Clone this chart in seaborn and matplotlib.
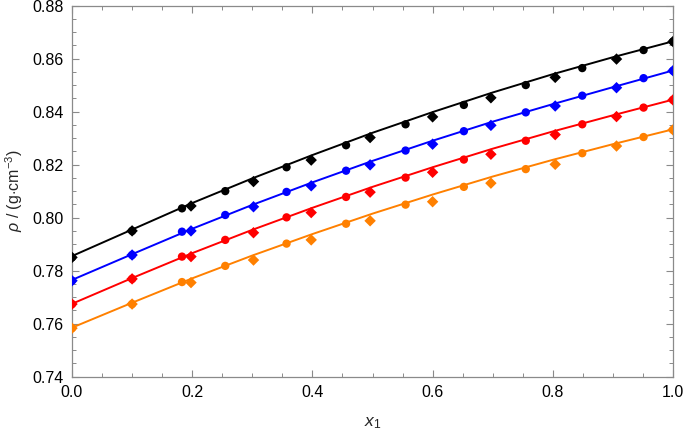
import numpy as np
import pandas as pd
import matplotlib
matplotlib.use("Agg")
import matplotlib.pyplot as plt
from matplotlib.ticker import MultipleLocator
import seaborn as sns

# measured points (circles)
x_circ = [0.0, 0.1, 0.183, 0.255, 0.357, 0.456, 0.555, 0.652, 0.755, 0.849, 0.951, 1.0]
rho_circ = {
    "black": [0.7850, 0.7950, 0.8035, 0.8100, 0.8190, 0.8273, 0.8352, 0.8425, 0.8500, 0.8564, 0.8632, 0.8664],
    "blue": [0.7762, 0.7859, 0.7947, 0.8010, 0.8097, 0.8177, 0.8253, 0.8326, 0.8397, 0.8460, 0.8526, 0.8554],
    "red": [0.7674, 0.7769, 0.7853, 0.7916, 0.8001, 0.8078, 0.8151, 0.8219, 0.8290, 0.8352, 0.8415, 0.8444],
    "orange": [0.7583, 0.7674, 0.7757, 0.7818, 0.7902, 0.7977, 0.8049, 0.8116, 0.8183, 0.8243, 0.8304, 0.8331],
}

# literature points (diamonds)
x_diam = [0.0, 0.1, 0.198, 0.302, 0.398, 0.496, 0.600, 0.697, 0.804, 0.906, 1.0]
rho_diam = {
    "black": [0.7850, 0.7950, 0.8044, 0.8136, 0.8217, 0.8302, 0.8380, 0.8452, 0.8529, 0.8598, 0.8664],
    "blue": [0.7762, 0.7859, 0.7950, 0.8041, 0.8120, 0.8199, 0.8277, 0.8348, 0.8421, 0.8490, 0.8554],
    "red": [0.7674, 0.7769, 0.7853, 0.7943, 0.8019, 0.8096, 0.8171, 0.8239, 0.8313, 0.8381, 0.8444],
    "orange": [0.7583, 0.7674, 0.7755, 0.7840, 0.7916, 0.7988, 0.8060, 0.8130, 0.8201, 0.8270, 0.8331],
}

# fitted curves, read at steps of 0.1
x_fit = [0.0, 0.1, 0.2, 0.3, 0.4, 0.5, 0.6, 0.7, 0.8, 0.9, 1.0]
rho_fit = {
    "black": [0.7855, 0.7955, 0.8055, 0.8148, 0.8236, 0.8320, 0.8398, 0.8472, 0.8541, 0.8605, 0.8665],
    "blue": [0.7765, 0.7862, 0.7958, 0.8048, 0.8133, 0.8214, 0.8290, 0.8362, 0.8428, 0.8492, 0.8555],
    "red": [0.7675, 0.7772, 0.7866, 0.7954, 0.8037, 0.8116, 0.8190, 0.8260, 0.8325, 0.8386, 0.8445],
    "orange": [0.7585, 0.7679, 0.7771, 0.7857, 0.7938, 0.8015, 0.8087, 0.8155, 0.8218, 0.8277, 0.8333],
}

colors = {"black": "#000000", "blue": "#0000ff", "red": "#ff0000", "orange": "#ff8000"}

sns.set_style("ticks")
plt.rcParams["font.family"] = ["Liberation Sans", "DejaVu Sans"]
plt.rcParams["mathtext.fontset"] = "custom"
plt.rcParams["mathtext.rm"] = "Liberation Sans"
plt.rcParams["mathtext.it"] = "Liberation Sans:italic"

fig = plt.figure(figsize=(6.85, 4.34), dpi=100)
ax = fig.add_axes([0.1051, 0.132, 0.8774, 0.8553])

for name, c in colors.items():
    fit = pd.DataFrame({"x": x_fit, "rho": rho_fit[name]})
    sns.lineplot(data=fit, x="x", y="rho", color=c, lw=1.4, ax=ax, zorder=2)
    circ = pd.DataFrame({"x": x_circ, "rho": rho_circ[name]})
    sns.scatterplot(data=circ, x="x", y="rho", color=c, marker="o", s=36,
                    edgecolor="none", ax=ax, zorder=3)
    diam = pd.DataFrame({"x": x_diam, "rho": rho_diam[name]})
    sns.scatterplot(data=diam, x="x", y="rho", color=c, marker="D", s=34,
                    edgecolor="none", ax=ax, zorder=3)

ax.set_xlim(0, 1)
ax.set_ylim(0.74, 0.88)
ax.xaxis.set_major_locator(MultipleLocator(0.2))
ax.xaxis.set_minor_locator(MultipleLocator(0.05))
ax.yaxis.set_major_locator(MultipleLocator(0.02))
ax.yaxis.set_minor_locator(MultipleLocator(0.005))
ax.xaxis.set_major_formatter(plt.FuncFormatter(lambda v, p: f"{v:.1f}"))
ax.yaxis.set_major_formatter(plt.FuncFormatter(lambda v, p: f"{v:.2f}"))

frame = "#8a8a8a"
for sp in ax.spines.values():
    sp.set_visible(True)
    sp.set_color(frame)
    sp.set_linewidth(0.9)
ax.tick_params(which="both", direction="in", top=True, right=True,
               color=frame, labelsize=11.5, labelcolor="black", pad=6)
ax.tick_params(which="major", length=5, width=0.8)
ax.tick_params(which="minor", length=2.6, width=0.7)

ax.set_xlabel(r"$x_1$", fontsize=12.5, labelpad=11)
ax.set_ylabel(r"$\rho$ / (g$\cdot$cm$^{-3}$)", fontsize=11.5, labelpad=5)

fig.savefig("out.png", dpi=100)
